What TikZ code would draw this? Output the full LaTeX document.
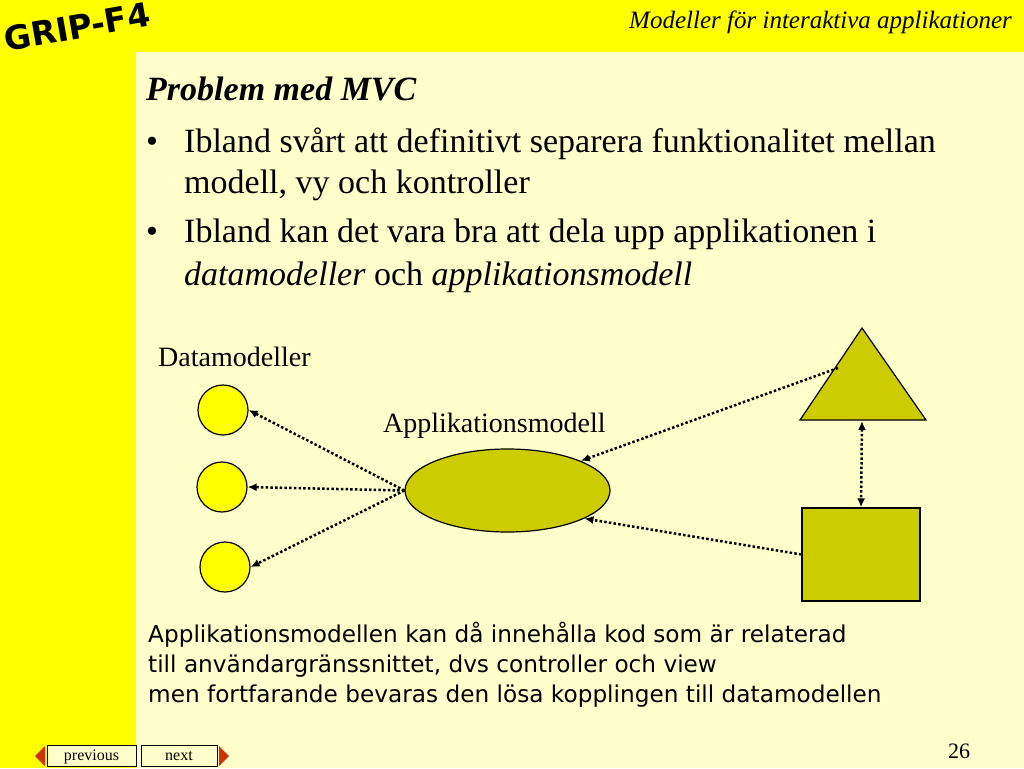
\documentclass[tikz,border=0pt]{standalone}
\usepackage{fontspec}
\setmainfont{Liberation Serif}
\newfontfamily\comicf{DejaVu Sans}
\newfontfamily\heavyf{DejaVu Sans}
\usetikzlibrary{shapes.geometric,arrows.meta}
\definecolor{bgc}{HTML}{FFFFCC}
\definecolor{ylw}{HTML}{FFFF00}
\definecolor{olive}{HTML}{CCCC00}
\definecolor{navred}{HTML}{CC3300}
\begin{document}
\begin{tikzpicture}[x=1pt,y=-1pt,
  txt/.style={inner sep=0pt, anchor=base west},
  big/.style={font=\fontsize{34}{34}\selectfont},
  mid/.style={font=\fontsize{28}{28}\selectfont},
  comic/.style={font=\comicf\fontsize{23.2}{23.2}\selectfont},
  dm/.style={circle, draw=black, line width=1.2pt, fill=ylw, minimum size=50pt, inner sep=0pt},
  shp/.style={draw=black, line width=1.2pt, fill=olive},
  dots/.style={line width=2.5pt, dash pattern=on 2.5pt off 2.2pt},
  arr/.style={dots, -{Latex[length=9pt,width=8pt]}},
  darr/.style={dots, {Latex[length=9pt,width=8pt]}-{Latex[length=9pt,width=8pt]}},
  navbox/.style={draw=black, line width=0.8pt, fill=bgc, inner sep=0pt, text height=13pt, text depth=4pt, inner ysep=2pt, font=\fontsize{16}{16}\selectfont},
  navtri/.style={fill=navred}]
\useasboundingbox (0,0) rectangle (1024,768);
\fill[bgc] (0,0) rectangle (1024,768);
\fill[ylw] (0,0) rectangle (1024,52);
\fill[ylw] (0,0) rectangle (136,768);

\node[rotate=10, inner sep=0pt, font=\heavyf\bfseries\fontsize{33}{33}\selectfont] (grip) at (77,27) {GRIP-F4};
\node[inner sep=0pt, anchor=base east, font=\itshape\fontsize{25}{25}\selectfont] (hdr) at (1012,29) {Modeller för interaktiva applikationer};

\node[txt, big, font=\bfseries\itshape\fontsize{34}{34}\selectfont] (title) at (146,100) {Problem med MVC};
\node[txt, big] (b1) at (146,152) {•};
\node[txt, big] (l1) at (184,152) {Ibland svårt att definitivt separera funktionalitet mellan};
\node[txt, big] (l2) at (184,193) {modell, vy och kontroller};
\node[txt, big] (b2) at (146,242) {•};
\node[txt, big] (l3) at (184,242) {Ibland kan det vara bra att dela upp applikationen i};
\node[txt, big] (l4) at (184,285) {\textit{datamodeller} och \textit{applikationsmodell}};

\node[txt, mid] (dmlab) at (158,366) {Datamodeller};
\node[txt, mid] (applab) at (383,432) {Applikationsmodell};

\node[dm] (c1) at (223,410) {};
\node[dm] (c2) at (222,487) {};
\node[dm] (c3) at (225,567) {};
\node[ellipse, shp, minimum width=205pt, minimum height=83pt, inner sep=0pt] (app) at (507.5,490.5) {};
\draw[shp] (862,328) -- (926,420) -- (800,420) -- cycle;
\coordinate (triL) at (838,368);
\coordinate (triB) at (862,421);
\node[rectangle, shp, minimum width=118pt, minimum height=93pt, inner sep=0pt] (sq) at (861,554.5) {};

\draw[arr] (app.west) -- (c1.east);
\draw[arr] (app.west) -- (c2.east);
\draw[arr] (app.west) -- (c3.east);
\draw[arr] (triL) -- (app.22);
\draw[arr] (sq.west) -- (app.-20);
\draw[darr] (triB) -- (sq.north);

\node[txt, comic] (t1) at (148,642) {Applikationsmodellen kan då innehålla kod som är relaterad};
\node[txt, comic] (t2) at (148,672) {till användargränssnittet, dvs controller och view};
\node[txt, comic] (t3) at (148,702) {men fortfarande bevaras den lösa kopplingen till datamodellen};

\node[inner sep=0pt, anchor=base, font=\fontsize{22}{22}\selectfont] (pg) at (959,758) {26};

\node[navbox, minimum width=89pt] (prev) at (91.5,756) {previous};
\node[navbox, minimum width=76pt] (next) at (179,756) {next};
\fill[navtri] (35,756) -- (45,746) -- (45,766) -- cycle;
\fill[navtri] (229,756) -- (219,746) -- (219,766) -- cycle;
\end{tikzpicture}
\end{document}
